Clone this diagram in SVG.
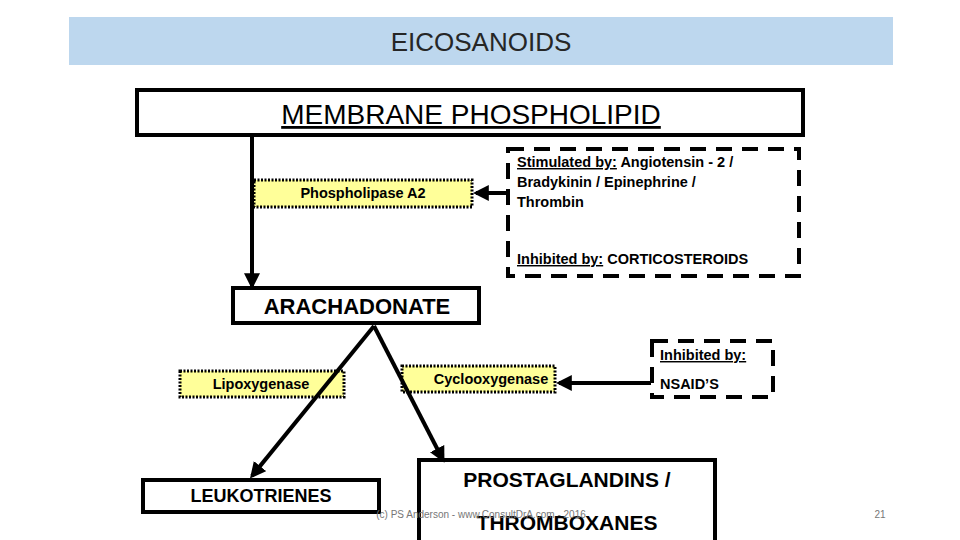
<svg xmlns="http://www.w3.org/2000/svg" width="960" height="540" viewBox="0 0 960 540">
<defs>
<style>
text{font-family:"Liberation Sans",Arial,sans-serif;fill:#000}
.box{fill:#fff;stroke:#000;stroke-width:4}
.enz{fill:#ffff99;stroke:#000;stroke-width:3;stroke-dasharray:2 1.5}
.dash{fill:none;stroke:#000;stroke-width:4;stroke-dasharray:16 10}
.con{stroke:#000;stroke-width:4;fill:none;marker-end:url(#ah)}
.small{font-size:14.5px;font-weight:bold}
.big{font-weight:bold}
</style>
<marker id="ah" viewBox="0 0 10 10" refX="8" refY="5" markerWidth="4" markerHeight="4" orient="auto" markerUnits="strokeWidth"><path d="M0,0 L10,5 L0,10 z" fill="#000"/></marker>
</defs>
<rect width="960" height="540" fill="#fff"/>
<g id="title"><rect x="69" y="17" width="824" height="48" fill="#bdd7ee"/><text x="481" y="51" font-size="26" text-anchor="middle" style="fill:#262626">EICOSANOIDS</text></g>
<g id="membrane"><rect class="box" x="137" y="90" width="666" height="45"/><text x="471" y="124" font-size="28" text-anchor="middle" text-decoration="underline">MEMBRANE PHOSPHOLIPID</text></g>
<g id="pla2"><rect class="enz" x="254" y="180" width="218" height="27"/><text class="small" x="363" y="198" text-anchor="middle">Phospholipase A2</text></g>
<g id="stim"><rect class="dash" x="508" y="149" width="291" height="127"/>
<text class="small" x="517" y="167"><tspan text-decoration="underline">Stimulated by:</tspan>  Angiotensin - 2 /</text>
<text class="small" x="517" y="187">Bradykinin / Epinephrine /</text>
<text class="small" x="517" y="207">Thrombin</text>
<text class="small" x="517" y="264"><tspan text-decoration="underline">Inhibited by:</tspan>  CORTICOSTEROIDS</text></g>
<g id="arach"><rect class="box" x="233" y="288" width="246" height="35"/><text class="big" x="357" y="314" font-size="22" text-anchor="middle">ARACHADONATE</text></g>
<g id="lipox"><rect class="enz" x="180" y="371" width="164" height="26"/><text class="small" x="261" y="389" text-anchor="middle">Lipoxygenase</text></g>
<g id="cyclo"><rect class="enz" x="402" y="366" width="153" height="26"/><text class="small" x="491" y="384" text-anchor="middle">Cyclooxygenase</text></g>
<g id="nsaid"><rect class="dash" x="652" y="341" width="121" height="56"/><text class="small" x="660" y="360" text-decoration="underline">Inhibited by:</text><text class="small" x="660" y="389">NSAID’S</text></g>
<g id="leuko"><rect class="box" x="143" y="480" width="236" height="32"/><text class="big" x="261" y="502" font-size="18" text-anchor="middle">LEUKOTRIENES</text></g>
<g id="prosta"><rect class="box" x="419" y="460" width="296" height="90"/><text class="big" x="567" y="487" font-size="21" text-anchor="middle">PROSTAGLANDINS /</text><text class="big" x="567" y="530" font-size="21" text-anchor="middle">THROMBOXANES</text></g>
<g id="connectors">
<path class="con" d="M252,135 V286"/>
<path class="con" d="M510,193 H476"/>
<path class="con" d="M651,383 H559"/>
<path class="con" d="M374,326 L252,476"/>
<path class="con" d="M374,326 L443,460"/>
</g>
<g id="footer"><text x="481" y="518" font-size="10" text-anchor="middle" style="fill:#777">(c) PS Anderson - www.ConsultDrA.com - 2016</text><text x="880" y="518" font-size="10" text-anchor="middle" style="fill:#777">21</text></g>
</svg>
